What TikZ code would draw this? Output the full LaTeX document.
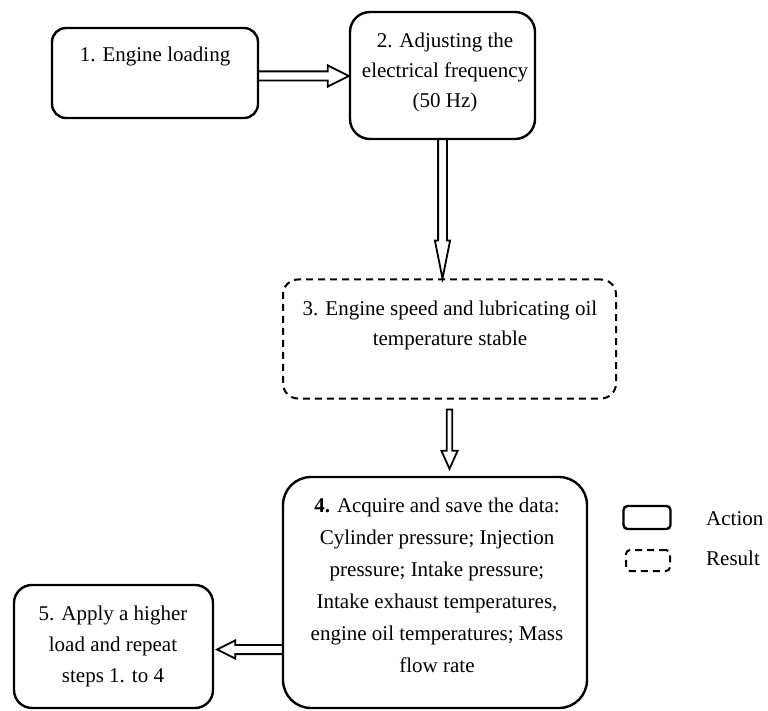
\documentclass[tikz,border=0pt]{standalone}
\usepackage{fontspec}
\setmainfont{Liberation Serif}
\usetikzlibrary{calc}
% block arrow: #1 shaft half-width, #2 head half-width, #3 head length, #4 start, #5 end, #6 tail closing
\newcommand\blockarrow[6]{%
  \coordinate (ba-s) at (#4);
  \coordinate (ba-e) at (#5);
  \coordinate (ba-h) at ($(ba-e)!#3!(ba-s)$);
  \draw[arrowline] ($(ba-s)!#1!90:(ba-e)$) -- ($(ba-h)!#1!-90:(ba-s)$) -- ($(ba-h)!#2!-90:(ba-s)$) -- (ba-e) -- ($(ba-h)!#2!90:(ba-s)$) -- ($(ba-h)!#1!90:(ba-s)$) -- ($(ba-s)!#1!-90:(ba-e)$) #6;}
\begin{document}
\begin{tikzpicture}[x=1pt,y=1pt,
  actionbox/.style={draw, line width=2.4pt, rounded corners=#1, inner sep=0pt},
  resultbox/.style={draw, line width=2pt, dash pattern=on 7pt off 5pt, rounded corners=#1, inner sep=0pt},
  arrowline/.style={draw, line width=1.8pt, line join=miter},
  txt/.style={font=\fontsize{21}{30}\selectfont, align=center, inner sep=0pt},
  lbl/.style={font=\fontsize{21}{30}\selectfont, inner sep=0pt, anchor=base west}]
\useasboundingbox (0,0) rectangle (768,-711);
% boxes
\node[actionbox=14pt, minimum width=206pt, minimum height=90pt] (b1) at (155,-73) {};
\node[actionbox=20pt, minimum width=185pt, minimum height=127pt] (b2) at (442.5,-75.5) {};
\node[resultbox=15pt, minimum width=333pt, minimum height=119pt] (b3) at (449.5,-339) {};
\node[actionbox=28pt, minimum width=304pt, minimum height=231pt] (b4) at (435,-592.5) {};
\node[actionbox=18pt, minimum width=199pt, minimum height=123pt] (b5) at (113.5,-646.5) {};
% texts
\node[txt, anchor=base] (t1) at (155,-62) {1. Engine loading};
\node[txt, anchor=north] (t2) at (445,-32.5) {2. Adjusting the\\electrical frequency\\(50 Hz)};
\node[txt, anchor=north] (t3) at (450,-300.5) {3. Engine speed and lubricating oil\\temperature stable};
\node[txt, anchor=north, font=\fontsize{21}{32}\selectfont] (t4) at (437,-497.5) {\textbf{4.} Acquire and save the data:\\Cylinder pressure; Injection\\pressure; Intake pressure;\\Intake exhaust temperatures,\\engine oil temperatures; Mass\\flow rate};
\node[txt, anchor=north, font=\fontsize{21}{31}\selectfont] (t5) at (113,-605.5) {5. Apply a higher\\load and repeat\\steps 1. to 4};
% legend
\node[actionbox=4pt, minimum width=47pt, minimum height=23pt] (la) at (647,-517.5) {};
\node[resultbox=4pt, minimum width=44pt, minimum height=21pt] (lr) at (648,-560.5) {};
\node[lbl] (lat) at (706,-525) {Action};
\node[lbl] (lrt) at (706,-565) {Result};
% arrows
\blockarrow{4.6pt}{10.6pt}{21pt}{[yshift=-3pt]b1.east}{[yshift=-3pt]b1.east -| b2.west}{}
\blockarrow{4.4pt}{7.6pt}{38pt}{b2.south}{b2.south |- b3.north}{}
\blockarrow{2.8pt}{8.1pt}{18pt}{[yshift=-10pt]b3.south}{[yshift=7pt]b3.south |- b4.north}{-- cycle}
\blockarrow{4.6pt}{9.1pt}{18pt}{[yshift=-3pt]b5.east -| b4.west}{[xshift=3pt,yshift=-3pt]b5.east}{}
\end{tikzpicture}
\end{document}
